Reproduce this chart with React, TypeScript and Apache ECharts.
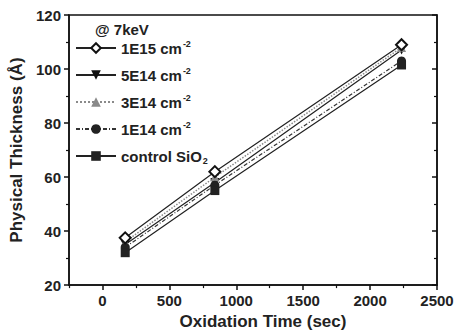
import React, { useEffect, useRef } from "react";
import * as echarts from "echarts";

const times = [170, 840, 2235];
const s1E15 = [37.5, 62, 109];
const s5E14 = [35, 58, 107];
const s3E14 = [36, 60, 108];
const s1E14 = [34, 57, 103];
const sCtrl = [32, 55, 101.5];
const names = ["1E15", "5E14", "3E14", "1E14", "control"];
const xMajor = [0, 500, 1000, 1500, 2000, 2500];
const xMinor = [-250, 250, 750, 1250, 1750, 2250];

const FONT = "'Liberation Sans', Arial, sans-serif";

export default function App() {
  const ref = useRef<HTMLDivElement>(null);
  useEffect(() => {
    const chart = echarts.init(ref.current!, null, { renderer: "svg" });
    const pts = (ys: number[]) => times.map((t, i) => [t, ys[i]]);
    const base = { type: "line", symbolSize: 9, animation: false };
    chart.setOption({
      animation: false,
      grid: { left: 69, right: 22, top: 15, bottom: 48, show: true, borderColor: "#111", borderWidth: 1.5, backgroundColor: "transparent" },
      xAxis: [
        {
          type: "value", min: -250, max: 2500, interval: 250,
          name: "Oxidation Time (sec)", nameLocation: "middle", nameGap: 26,
          nameTextStyle: { fontFamily: FONT, fontWeight: "bold", fontSize: 17, color: "#222", padding: [0, 0, 0, 20] },
          axisLine: { show: true, onZero: false, lineStyle: { color: "#111", width: 1.5 } },
          axisTick: { show: true, length: 5, customValues: xMajor, lineStyle: { color: "#111", width: 1.5 } },
          axisLabel: { customValues: xMajor, formatter: (v: number) => String(v), fontFamily: FONT, fontWeight: "bold", fontSize: 15, color: "#222", margin: 8 },
          splitLine: { show: false },
        },
        {
          type: "value", min: -250, max: 2500, position: "bottom", gridIndex: 0,
          axisLine: { show: false, onZero: false },
          axisTick: { show: true, length: 3, customValues: xMinor, lineStyle: { color: "#111", width: 1.2 } },
          axisLabel: { show: false },
          splitLine: { show: false },
        },
      ],
      yAxis: [
        {
          type: "value", min: 20, max: 120, interval: 20,
          name: "Physical Thickness (Å)", nameLocation: "middle", nameGap: 44,
          nameTextStyle: { fontFamily: FONT, fontWeight: "bold", fontSize: 17, color: "#222" },
          axisLine: { show: true, onZero: false, lineStyle: { color: "#111", width: 1.5 } },
          axisTick: { show: true, length: 5, lineStyle: { color: "#111", width: 1.5 } },
          minorTick: { show: true, splitNumber: 2, length: 3, lineStyle: { color: "#111", width: 1.2 } },
          axisLabel: { fontFamily: FONT, fontWeight: "bold", fontSize: 15, color: "#222", margin: 8 },
          splitLine: { show: false },
        },
        {
          type: "value", min: 20, max: 120, interval: 20, position: "right",
          axisLine: { show: true, onZero: false, lineStyle: { color: "#111", width: 1.5 } },
          axisTick: { show: true, inside: true, length: 5, lineStyle: { color: "#111", width: 1.5 } },
          minorTick: { show: true, splitNumber: 2, length: 3, lineStyle: { color: "#111", width: 1.2 } },
          axisLabel: { show: false },
          splitLine: { show: false },
        },
      ],
      legend: {
        orient: "vertical", left: 75, top: 39, padding: 0,
        itemWidth: 40, itemHeight: 12, itemGap: 9,
        data: names,
        formatter: (n: string) => {
          if (n === "control") return "control SiO{sub|2}";
          return n + " cm{sup|-2}";
        },
        textStyle: {
          fontFamily: FONT, fontWeight: "bold", fontSize: 15, color: "#222", lineHeight: 18,
          rich: {
            sup: { fontFamily: FONT, fontWeight: "bold", fontSize: 9, color: "#222", verticalAlign: "top", lineHeight: 18, padding: [0, 0, 0, 1] },
            sub: { fontFamily: FONT, fontWeight: "bold", fontSize: 9, color: "#222", verticalAlign: "bottom", lineHeight: 18, padding: [6, 0, 0, 1] },
          },
        },
      },
      graphic: [
        { type: "text", left: 95, top: 22, style: { text: "@ 7keV", fontFamily: FONT, fontWeight: "bold", fontSize: 15, fill: "#222" } },
      ],
      series: [
        { ...base, name: "1E15", data: pts(s1E15), symbol: "emptyDiamond", symbolSize: 11, z: 5,
          itemStyle: { color: "#111", borderColor: "#111", borderWidth: 1.8 }, lineStyle: { color: "#222", width: 1.2 } },
        { ...base, name: "5E14", data: pts(s5E14), symbol: "path://M0,0 L10,0 L5,9 Z",
          itemStyle: { color: "#111" }, lineStyle: { color: "#222", width: 1.2 } },
        { ...base, name: "3E14", data: pts(s3E14), symbol: "triangle",
          itemStyle: { color: "#8a8a8a" }, lineStyle: { color: "#8a8a8a", width: 1.5, type: "dotted" } },
        { ...base, name: "1E14", data: pts(s1E14), symbol: "circle",
          itemStyle: { color: "#222" }, lineStyle: { color: "#333", width: 1.2, type: [4, 2, 1, 2] } },
        { ...base, name: "control", data: pts(sCtrl), symbol: "rect",
          itemStyle: { color: "#222" }, lineStyle: { color: "#222", width: 1.2 } },
      ],
    });
    return () => chart.dispose();
  }, []);
  return <div ref={ref} style={{ width: 459, height: 335, position: "absolute", left: 0, top: 0, background: "#fff" }} />;
}
